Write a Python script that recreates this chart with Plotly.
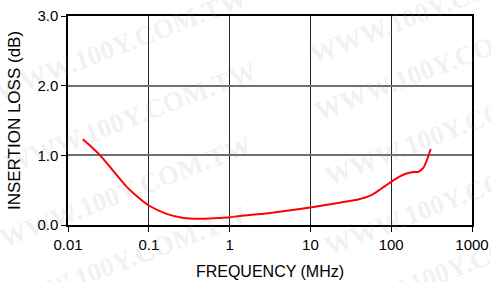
import plotly.graph_objects as go

# Data
freq_mhz = [0.0152, 0.02, 0.025, 0.035, 0.053, 0.075, 0.1, 0.166, 0.27, 0.43, 0.7, 1.0, 1.35, 3.0, 10, 23, 40, 57, 75, 100, 130, 155, 190, 217, 250, 280, 308]
insertion_loss_db = [1.23, 1.11, 1.0, 0.8, 0.55, 0.39, 0.28, 0.16, 0.10, 0.09, 0.10, 0.11, 0.13, 0.17, 0.25, 0.32, 0.37, 0.43, 0.52, 0.62, 0.70, 0.74, 0.76, 0.765, 0.82, 0.95, 1.09]

x_tickvals = [0.01, 0.1, 1, 10, 100, 1000]
x_ticktext = ["0.01", "0.1", "1", "10", "100", "1000"]
y_tickvals = [0, 1, 2, 3]
y_ticktext = ["0.0", "1.0", "2.0", "3.0"]

watermark = "WWW.100Y.COM.TW"

fig = go.Figure()
fig.add_trace(go.Scatter(
    x=freq_mhz, y=insertion_loss_db, mode="lines",
    line=dict(color="#ff0000", width=2, shape="spline", smoothing=0.8),
    showlegend=False, hoverinfo="skip"))

L, R, T, B = 68, 19, 16, 57
W, H = 491, 282
pw, ph = W - L - R, H - T - B

# faint watermark (window pixel positions)
for (px, py) in [(120, 45), (130, 118), (125, 192), (120, 262),
                 (435, 8), (440, 65), (450, 130), (450, 200), (455, 268)]:
    fig.add_annotation(
        x=(px - L) / pw, y=(H - B - py) / ph, xref="paper", yref="paper",
        xanchor="center", yanchor="middle",
        text="<b>" + watermark + "</b>", showarrow=False, textangle=-21,
        font=dict(family="Liberation Serif", size=27, color="rgba(150,150,150,0.15)"),
    )

tick_font = dict(family="Liberation Sans, Arial", size=15, color="black")
fig.update_layout(
    width=W, height=H,
    margin=dict(l=L, r=R, t=T, b=B),
    paper_bgcolor="white", plot_bgcolor="white",
    font=tick_font,
    xaxis=dict(
        type="log", range=[-2, 3], automargin=False, ticklabeloverflow="allow",
        tickvals=x_tickvals, ticktext=x_ticktext, tickfont=tick_font,
        showgrid=True, gridcolor="#222222", gridwidth=1,
        showline=True, linecolor="black", linewidth=1.5, mirror=True,
        ticks="outside", ticklen=5, tickcolor="black", tickwidth=1,
        title=dict(text="FREQUENCY (MHz)", font=dict(family="Liberation Sans, Arial", size=16, color="black"), standoff=14),
        zeroline=False,
    ),
    yaxis=dict(
        range=[0, 3], automargin=False, ticklabeloverflow="allow",
        tickvals=y_tickvals, ticktext=y_ticktext, tickfont=tick_font,
        showgrid=True, gridcolor="#707070", gridwidth=1.5,
        showline=True, linecolor="black", linewidth=1.5, mirror=True,
        ticks="outside", ticklen=5, tickcolor="black", tickwidth=1,
        title=dict(text="INSERTION LOSS (dB)", font=dict(family="Liberation Sans, Arial", size=17, color="black"), standoff=12),
        zeroline=False,
    ),
)
fig.write_html(
    "out.html",
    config={"displayModeBar": False},
    post_script="document.body.style.margin='0';document.body.style.overflow='hidden';",
)
